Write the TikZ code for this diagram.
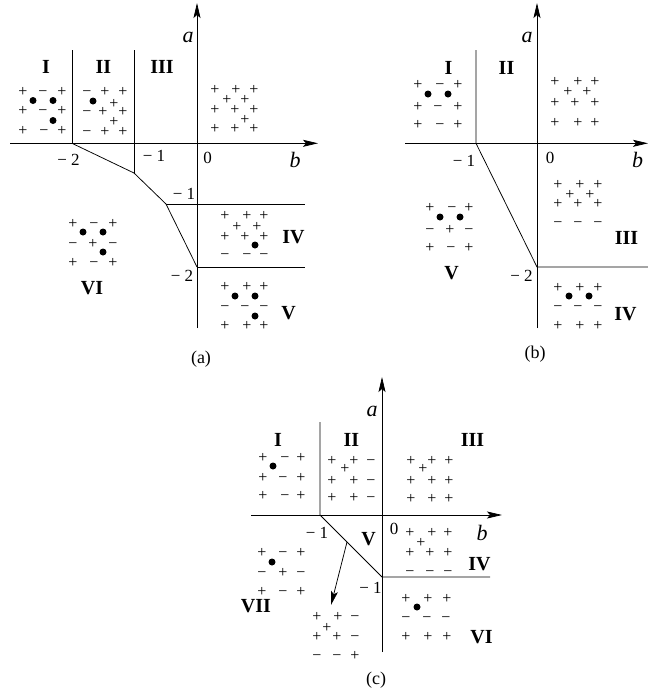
\documentclass[tikz,border=0pt]{standalone}
\usepackage{fontspec}
\setmainfont{Liberation Serif}
\usetikzlibrary{arrows.meta}
\newcounter{sgc}
\newcommand\srow[2]{\foreach \xx/\sgch in {#2}{\stepcounter{sgc}\node[sg] (s\arabic{sgc}) at (\xx,#1+4) {\sgch};}}
\newcommand\dotat[2]{\stepcounter{sgc}\node[dt] (d\arabic{sgc}) at (#1,#2) {};}
\begin{document}
\begin{tikzpicture}[x=1pt,y=-1pt,
  ln/.style={line width=0.75pt},
  ax/.style={line width=0.75pt,-{Stealth[length=15pt,width=7pt,inset=3pt]}},
  sarr/.style={line width=0.75pt,-{Stealth[length=14pt,width=7pt,inset=3pt]}},
  rl/.style={font=\fontsize{20}{22}\selectfont\bfseries,inner sep=0pt},
  num/.style={font=\fontsize{17}{19}\selectfont,inner sep=0pt},
  var/.style={font=\fontsize{22}{24}\selectfont\itshape,inner sep=0pt},
  capt/.style={font=\fontsize{18}{20}\selectfont,inner sep=0pt},
  sg/.style={font=\fontsize{16}{18}\selectfont,inner sep=0pt,anchor=base},
  dt/.style={circle,fill,inner sep=0pt,minimum size=7pt}]
\useasboundingbox (0,0) rectangle (648,694);

% ================= (a) =================
\coordinate (aA0) at (197,328); \coordinate (aA1) at (197,3);
\coordinate (aB0) at (10,143.3); \coordinate (aB1) at (318,143.3);
\coordinate (aP1) at (72,143.3); \coordinate (aP1t) at (72,50);
\coordinate (aP2) at (134,173); \coordinate (aP2t) at (134,50);
\coordinate (aP3) at (166,204); \coordinate (aP3r) at (305,204);
\coordinate (aP4) at (197,267); \coordinate (aP4r) at (305,267);
\draw[ax] (aA0) -- (aA1);
\draw[ax] (aB0) -- (aB1);
\draw[ln] (aP1t) -- (aP1);
\draw[ln] (aP2t) -- (aP2);
\draw[ln] (aP1) -- (aP2) -- (aP3) -- (aP4);
\draw[ln] (aP3) -- (aP3r);
\draw[ln] (aP4) -- (aP4r);

\node[var] (aa) at (188,37) {a};
\node[var] (ab) at (295,159.5) {b};
\node[num] (am2) at (68.5,160) {−~2};
\node[num] (am1) at (154,156) {−~1};
\node[num] (a0) at (207.5,157.5) {0};
\node[num] (am1b) at (184,194) {−~1};
\node[num] (am2b) at (182,276) {−~2};
\node[rl] (aI) at (46,66.5) {I};
\node[rl] (aII) at (103.5,66.5) {II};
\node[rl] (aIII) at (162,66.5) {III};
\node[rl] (aIV) at (293.5,237) {IV};
\node[rl] (aV) at (288.5,313.5) {V};
\node[rl] (aVI) at (92,288) {VI};
\node[capt] (acap) at (201,359) {(a)};

% region I
\srow{92.5}{23/+,43/−,62/+}
\srow{111.5}{23/+,43/−,62/+}
\srow{131}{23/+,44/−,62/+}
\dotat{33}{100.5}\dotat{53}{100.5}\dotat{53}{120.5}
% region II
\srow{92.7}{87/−,105/+,123/+}
\srow{104}{114/+}
\srow{112}{87/−,103/+,123/+}
\srow{122}{114/+}
\srow{132}{87/−,105/+,123/+}
\dotat{93}{101}
% upper right
\srow{90.5}{215/+,236/+,254/+}
\srow{100.5}{227/+,245/+}
\srow{110.5}{215/+,235/+,254/+}
\srow{120}{245/+}
\srow{129}{215/+,235/+,254/+}
% IV
\srow{216}{225/+,247/+,264/+}
\srow{227}{237/+,257/+}
\srow{237}{225/+,245/+,264/+}
\dotat{255}{245}
\srow{255}{225/−,247/−,264/−}
% V
\srow{287}{225/+,247/+,264/+}
\dotat{235}{296}\dotat{255}{296}
\srow{307}{225/−,245/−,264/−}
\dotat{255}{316}
\srow{326}{225/+,247/+,264/+}
% VI
\srow{224}{73/+,94/−,113/+}
\dotat{83}{232}\dotat{103}{232}
\srow{244}{73/−,93/+,113/−}
\dotat{103}{252}
\srow{263}{73/+,94/−,113/+}

% ================= (b) =================
\coordinate (bA0) at (537,328); \coordinate (bA1) at (537,3);
\coordinate (bB0) at (405,143.3); \coordinate (bB1) at (648,143.3);
\coordinate (bP1) at (476,143.3); \coordinate (bP1t) at (476,50);
\coordinate (bP2) at (537,267); \coordinate (bP2r) at (648,267);
\draw[ax] (bA0) -- (bA1);
\draw[ax] (bB0) -- (bB1);
\draw[ln] (bP1t) -- (bP1) -- (bP2) -- (bP2r);

\node[var] (ba) at (527,37) {a};
\node[var] (bb) at (637.5,159.5) {b};
\node[num] (bm1) at (464,161) {−~1};
\node[num] (b0) at (550,157.5) {0};
\node[num] (bm2) at (521.5,276) {−~2};
\node[rl] (bI) at (448.5,67.5) {I};
\node[rl] (bII) at (506.5,67.5) {II};
\node[rl] (bIII) at (626.5,237.5) {III};
\node[rl] (bIV) at (625.5,314) {IV};
\node[rl] (bV) at (451.5,273.5) {V};
\node[capt] (bcap) at (535,354) {(b)};

% I
\srow{85}{418/+,440/−,458/+}
\dotat{428}{94}\dotat{448}{94}
\srow{107}{418/+,438/−,458/+}
\srow{125}{418/+,440/−,458/+}
% upper right
\srow{82}{555/+,578/+,595/+}
\srow{92}{568/+,587/+}
\srow{103}{555/+,575/+,595/+}
\srow{123}{555/+,578/+,595/+}
% III
\srow{185}{558/+,580/+,598/+}
\srow{195}{570/+,590/+}
\srow{204}{558/+,578/+,598/+}
\srow{223}{558/−,578/−,598/−}
% IV
\srow{288}{558/+,580/+,598/+}
\dotat{569}{296}\dotat{589}{296}
\srow{307}{558/−,578/−,598/−}
\srow{326}{558/+,580/+,598/+}
% V
\srow{208}{430/+,452/−,469/+}
\dotat{440}{217}\dotat{460}{217}
\srow{230}{430/−,450/+,469/−}
\srow{248}{430/+,451/−,469/+}

% ================= (c) =================
\coordinate (cA0) at (382,652); \coordinate (cA1) at (382,377);
\coordinate (cB0) at (251,515); \coordinate (cB1) at (502,515);
\coordinate (cP1) at (320,515); \coordinate (cP1t) at (320,422);
\coordinate (cP2) at (382,577); \coordinate (cP2r) at (490,577);
\coordinate (cS) at (347,542); \coordinate (cT) at (331,605);
\draw[ax] (cA0) -- (cA1);
\draw[ax] (cB0) -- (cB1);
\draw[ln] (cP1t) -- (cP1) -- (cP2) -- (cP2r);
\draw[sarr] (cS) -- (cT);

\node[var] (ca) at (372,411.5) {a};
\node[var] (cb) at (482,533) {b};
\node[num] (cm1) at (317,533) {−~1};
\node[num] (c0) at (394,528.5) {0};
\node[num] (cm1b) at (370.5,588) {−~1};
\node[rl] (cI) at (278,440) {I};
\node[rl] (cII) at (351.5,440) {II};
\node[rl] (cIII) at (472.5,440) {III};
\node[rl] (cV) at (368.5,539.5) {V};
\node[rl] (cIV) at (479.5,564) {IV};
\node[rl] (cVII) at (256,606) {VII};
\node[rl] (cVI) at (481.5,637) {VI};
\node[capt] (ccap) at (376,680) {(c)};

% I
\srow{458}{263/+,285/−,301/+}
\dotat{273}{466}
\srow{478}{263/+,283/−,301/+}
\srow{496}{263/+,285/−,301/+}
% II
\srow{461}{332/+,354/+,371/−}
\srow{469}{345/+}
\srow{481}{332/+,354/+,371/−}
\srow{498}{332/+,354/+,371/−}
% III
\srow{461}{411/+,432/+,449/+}
\srow{469}{423/+}
\srow{481}{411/+,432/+,449/+}
\srow{499}{411/+,432/+,449/+}
% IV
\srow{533}{410/+,432/+,448/+}
\srow{543}{421/+}
\srow{553}{410/+,430/+,448/+}
\srow{572}{410/−,430/−,448/−}
% VI
\srow{599}{406/+,428/+,447/+}
\dotat{417}{607}
\srow{618}{406/−,427/−,446/−}
\srow{637}{406/+,428/+,447/+}
% VII
\srow{553}{262/+,283/−,301/+}
\dotat{272}{562}
\srow{573}{262/−,283/+,301/−}
\srow{592}{262/+,283/−,301/+}
% region below arrow
\srow{617}{317/+,338/+,355/−}
\srow{628}{327/+}
\srow{637}{317/+,337/+,355/−}
\srow{656}{317/−,337/−,355/+}
\end{tikzpicture}
\end{document}
